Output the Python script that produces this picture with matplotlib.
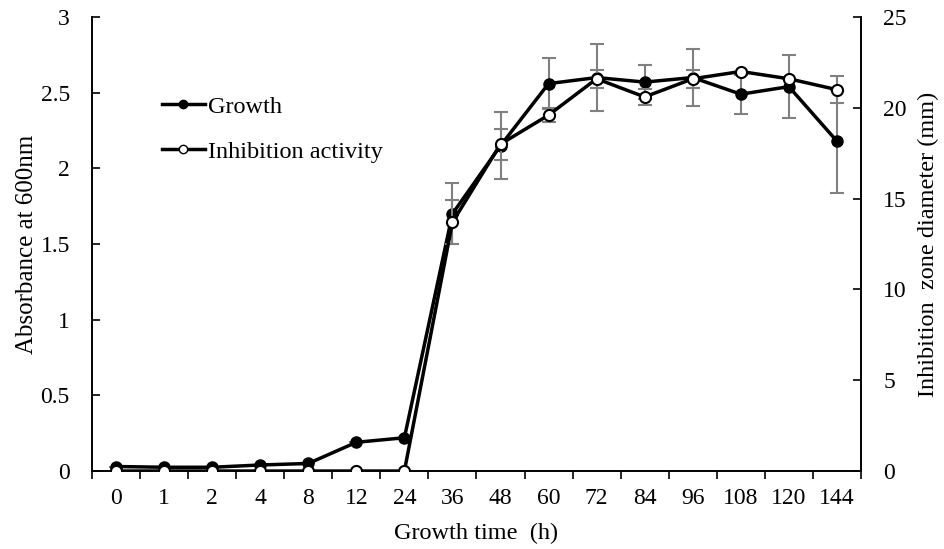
import numpy as np
import matplotlib
matplotlib.use('Agg')
import matplotlib.pyplot as plt
from matplotlib.lines import Line2D

plt.rcParams['font.family'] = ['Liberation Serif', 'DejaVu Serif']

# data
hours = ['0', '1', '2', '4', '8', '12', '24', '36', '48', '60', '72', '84', '96', '108', '120', '144']
growth = [0.03, 0.025, 0.025, 0.04, 0.05, 0.19, 0.22, 1.70, 2.15, 2.56, 2.60, 2.57, 2.60, 2.49, 2.54, 2.18]
growth_err = [0, 0, 0, 0, 0, 0, 0, 0.20, 0.22, 0.17, 0.22, 0.11, 0.19, 0.13, 0.21, 0.34]
inhib = [0, 0, 0, 0, 0, 0, 0, 13.7, 18.0, 19.6, 21.6, 20.6, 21.6, 22.0, 21.6, 21.0]
inhib_err = [0, 0, 0, 0, 0, 0, 0, 1.2, 0.85, 0.4, 0.5, 0.45, 0.5, 0, 0, 0.75]

x = np.arange(len(hours))

fig = plt.figure(figsize=(9.44, 5.49), dpi=100)
ax = fig.add_axes([0.0975, 0.142, 0.8145, 0.827])
ax2 = ax.twinx()

errc = '#808080'
ax.errorbar(x, growth, yerr=growth_err, fmt='none', ecolor=errc, elinewidth=1.5, capsize=5, capthick=1.5, zorder=2)
ax.plot(x, growth, '-o', color='black', lw=2.5, ms=8, mfc='black', mec='black', zorder=3)

ax2.errorbar(x, inhib, yerr=inhib_err, fmt='none', ecolor=errc, elinewidth=1.5, capsize=5, capthick=1.5, zorder=2)
ax2.plot(x, inhib, '-o', color='black', lw=2.5, ms=8, mfc='white', mec='black', mew=1.5, zorder=3)

ax.set_xlim(-0.5, len(hours) - 0.5)
ax.set_ylim(0, 3)
ax2.set_ylim(0, 25)
ax.set_yticks([0, 0.5, 1, 1.5, 2, 2.5, 3])
ax.set_yticklabels(['0', '0.5', '1', '1.5', '2', '2.5', '3'])
ax2.set_yticks([0, 5, 10, 15, 20, 25])

# category labels at centres, tick marks between categories
ax.set_xticks(x)
ax.set_xticklabels(hours)
ax.set_xticks(np.arange(-0.5, len(hours)), minor=True)
ax.tick_params(axis='x', which='major', length=0, pad=12, labelsize=17)
ax.tick_params(axis='x', which='minor', length=6, width=1.2, direction='out')
ax.tick_params(axis='y', which='major', length=6, width=1.2, direction='in', labelsize=17, pad=16)
ax2.tick_params(axis='y', which='major', length=6, width=1.2, direction='in', labelsize=17, pad=16)

for a in (ax, ax2):
    a.spines['top'].set_visible(False)
    for s in ('left', 'right', 'bottom'):
        a.spines[s].set_linewidth(1.2)

ax.set_xlabel('Growth time  (h)', fontsize=17.5, labelpad=10)
ax.set_ylabel('Absorbance at 600nm', fontsize=18, labelpad=2)
ax2.set_ylabel('Inhibition  zone diameter (mm)', fontsize=17.5, labelpad=8)

handles = [Line2D([], [], color='black', lw=2.5, marker='o', ms=6, mfc='black', mec='black'),
           Line2D([], [], color='black', lw=2.5, marker='o', ms=6, mfc='white', mec='black')]
ax2.legend(handles, ['Growth', 'Inhibition activity'], loc='upper left', bbox_to_anchor=(0.062, 0.875),
           frameon=False, fontsize=17.5, handlelength=1.8, handletextpad=0.1, labelspacing=0.95)

fig.savefig('out.png', dpi=100)
